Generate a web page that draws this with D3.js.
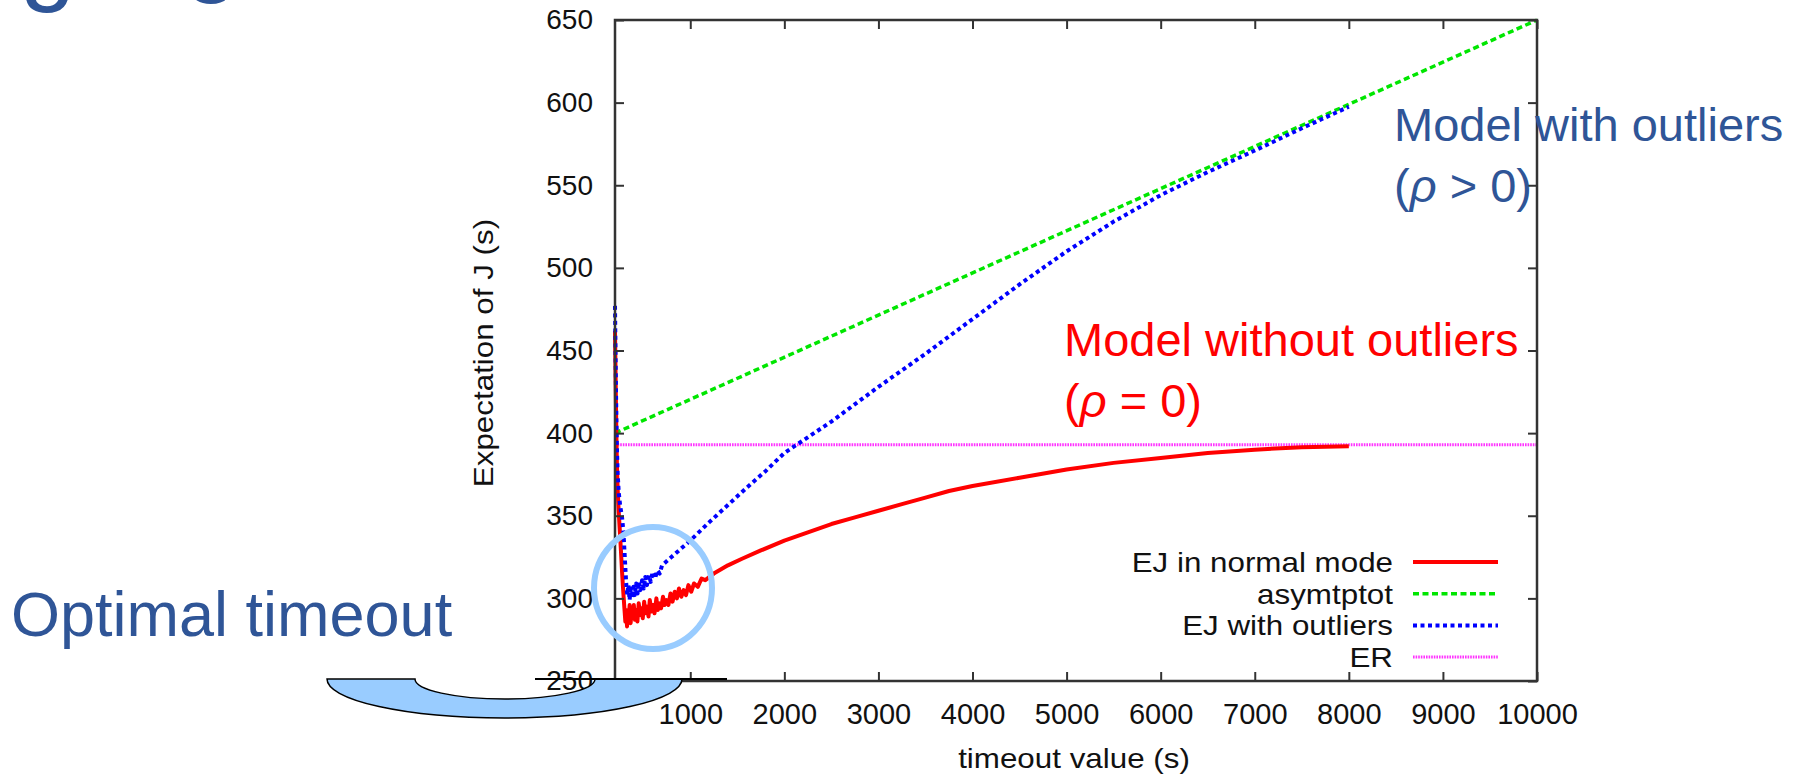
<!DOCTYPE html>
<html lang="en">
<head>
<meta charset="utf-8">
<title>Expectation of J</title>
<script src="https://cdnjs.cloudflare.com/ajax/libs/d3/7.8.5/d3.min.js"></script>
<style>
	body { margin: 0; background: #fff; }
	svg text { font-family: "Liberation Sans", Arial, sans-serif; }
</style>
</head>
<body>
<svg id="chart" width="1802" height="774"></svg>
<script>
// ---- data ----
var xTicks = [1000, 2000, 3000, 4000, 5000, 6000, 7000, 8000, 9000, 10000];
var yTicks = [250, 300, 350, 400, 450, 500, 550, 600, 650];

// EJ in normal mode (red)
var normalT = [200,205,210,215,220,228,238,250,262,275,288,300,310,318,328,336,345,356,366,377,390,400,412,426,438,452,466,478,495,510,522,540,556,570,588,602,620,640,655,672,690,710,728,748,768,790,812,835,858,880,905,930,955,980,1010,1040,1080,1120,1160,1250,1400,1550,1750,2000,2250,2500,2750,3000,3250,3500,3750,4000,4500,5000,5500,6000,6500,7000,7500,8000];
var normalJ = [462,440,418,398,382,366,354,342,330,316,304,294,286,293,283,291,288,296,285,292,289,296,287,293,286,297,290,294,288,298,291,295,289,299,292,296,291,300,293,297,294,301,296,299,296,303,298,304,300,306,301,305,302,308,304,309,307,312,311,315,320,324,329,335,340,345,349,353,357,361,365,368,373,378,382,385,388,390,391.5,392];

// EJ with outliers (blue)
var outlierT = [200,205,210,215,220,228,240,255,275,290,305,318,330,342,355,368,382,396,410,425,440,455,470,488,505,522,540,560,580,600,625,650,675,700,800,1000,1200,1400,1600,1800,2000,2500,3000,3500,4000,4500,5000,5500,6000,6500,7000,7500,8000];
var outlierJ = [477,452,428,408,392,376,364,356,349,340,324,310,302,308,299,306,300,307,302,309,303,310,305,311,306,313,308,314,310,316,312,317,315,320,325,335,346,356.5,367,377,388,407,428,448,469,490,510,528,544,558,571,584.5,597.5];

// asymptote (green) and ER (magenta)
var asymT = [200, 10000];
var asymJ = [400, 650];
var erT = [200, 10000];
var erJ = [393, 393];

var legendLabels = ["EJ in normal mode", "asymtptot", "EJ with outliers", "ER"];

// ---- layout ----
var svg = d3.select("#chart");
var plotL = 615, plotR = 1537, plotT = 20, plotB = 681;

var x = d3.scaleLinear().domain([200, 10000]).range([plotL, plotR]);
var y = d3.scaleLinear().domain([250, 650]).range([plotB, plotT]);

function pairs(ts, vs) { return ts.map(function(t, i) { return [t, vs[i]]; }); }
var line = d3.line().x(function(d) { return x(d[0]); }).y(function(d) { return y(d[1]); });

var series = [
	{ data: pairs(normalT, normalJ), color: "#ff0000", width: 4, dash: null },
	{ data: pairs(asymT, asymJ), color: "#00e600", width: 3.5, dash: "6,3.5" },
	{ data: pairs(outlierT, outlierJ), color: "#0000ff", width: 4, dash: "4,3.5" },
	{ data: pairs(erT, erJ), color: "#ff33ff", width: 3, dash: "1.6,1" }
];

// draw order like gnuplot: ER, asym, outliers, normal
var plot = svg.append("g");
[3, 1, 0, 2].forEach(function(i) {
	var s = series[i];
	plot.append("path")
		.datum(s.data)
		.attr("d", line)
		.attr("fill", "none")
		.attr("stroke", s.color)
		.attr("stroke-width", s.width)
		.attr("stroke-dasharray", s.dash)
		.attr("stroke-linejoin", "round");
});

// axes (ticks point inwards, mirrored)
var fmt = d3.format("d");
var yAxis = svg.append("g").attr("transform", "translate(" + plotL + ",0)")
	.call(d3.axisLeft(y).tickValues(yTicks).tickFormat(fmt).tickSizeInner(-9).tickSizeOuter(0).tickPadding(22));
var xAxis = svg.append("g").attr("transform", "translate(0," + plotB + ")")
	.call(d3.axisBottom(x).tickValues(xTicks).tickFormat(fmt).tickSizeInner(-9).tickSizeOuter(0).tickPadding(22));
svg.append("g").attr("transform", "translate(" + plotR + ",0)")
	.call(d3.axisRight(y).tickValues(yTicks).tickSizeInner(-9).tickSizeOuter(0).tickFormat(""));
svg.append("g").attr("transform", "translate(0," + plotT + ")")
	.call(d3.axisTop(x).tickValues(xTicks).tickSizeInner(-9).tickSizeOuter(0).tickFormat(""));

svg.selectAll(".domain").remove();
svg.selectAll(".tick line").attr("stroke", "#333").attr("stroke-width", 2);
yAxis.selectAll("text").attr("font-size", 28).attr("fill", "#111");
xAxis.selectAll("text").attr("font-size", 29).attr("fill", "#111");

svg.append("rect")
	.attr("x", plotL).attr("y", plotT)
	.attr("width", plotR - plotL).attr("height", plotB - plotT)
	.attr("fill", "none").attr("stroke", "#333").attr("stroke-width", 2.5);

// axis titles
svg.append("g").attr("transform", "translate(1074,768) scale(1.12,1)")
	.append("text").attr("text-anchor", "middle").attr("font-size", 28).attr("fill", "#111")
	.text("timeout value (s)");
svg.append("g").attr("transform", "translate(493,353) rotate(-90) scale(1.12,1)")
	.append("text").attr("text-anchor", "middle").attr("font-size", 28).attr("fill", "#111")
	.text("Expectation of J (s)");

// legend
var legend = svg.append("g");
legendLabels.forEach(function(label, i) {
	var ly = 562 + i * 31.7;
	var s = series[i];
	legend.append("g").attr("transform", "translate(1393," + (ly + 10) + ") scale(1.12,1)")
		.append("text").attr("text-anchor", "end").attr("font-size", 28).attr("fill", "#111")
		.text(label);
	legend.append("line")
		.attr("x1", 1413).attr("x2", 1498).attr("y1", ly).attr("y2", ly)
		.attr("stroke", s.color).attr("stroke-width", s.width)
		.attr("stroke-dasharray", s.dash);
});

// ---- slide annotations ----
var navy = "#2f5597";

// slide title, cut off by the top edge (only the descender tips show)
svg.append("text").attr("x", 20).attr("y", -8)
	.attr("font-size", 100).attr("fill", navy).text("g");
svg.append("text").attr("x", 184).attr("y", -17)
	.attr("font-size", 100).attr("fill", navy).text("g");

svg.append("ellipse")
	.attr("cx", 653).attr("cy", 588).attr("rx", 59).attr("ry", 61)
	.attr("fill", "none").attr("stroke", "#99ccff").attr("stroke-width", 6);

svg.append("path")
	.attr("d", "M327,679 A177.5,39 0 0 0 682,679 L595,679 A90,20 0 0 1 415,679 Z")
	.attr("fill", "#99ccff").attr("stroke", "#000").attr("stroke-width", 1.5);
svg.append("line")
	.attr("x1", 535).attr("x2", 727).attr("y1", 679).attr("y2", 679)
	.attr("stroke", "#000").attr("stroke-width", 2);

svg.append("text").attr("x", 11).attr("y", 636)
	.attr("font-size", 63).attr("fill", navy).text("Optimal timeout");

var t1 = svg.append("text").attr("font-size", 47).attr("fill", navy);
t1.append("tspan").attr("x", 1394).attr("y", 141).text("Model with outliers");
var t1b = t1.append("tspan").attr("x", 1394).attr("y", 202);
t1b.append("tspan").text("(");
t1b.append("tspan").attr("font-style", "italic").text("\u03c1");
t1b.append("tspan").text(" > 0)");

var t2 = svg.append("text").attr("font-size", 47).attr("fill", "#ff0000");
t2.append("tspan").attr("x", 1064).attr("y", 356).text("Model without outliers");
var t2b = t2.append("tspan").attr("x", 1064).attr("y", 417);
t2b.append("tspan").text("(");
t2b.append("tspan").attr("font-style", "italic").text("\u03c1");
t2b.append("tspan").text(" = 0)");
</script>
</body>
</html>
